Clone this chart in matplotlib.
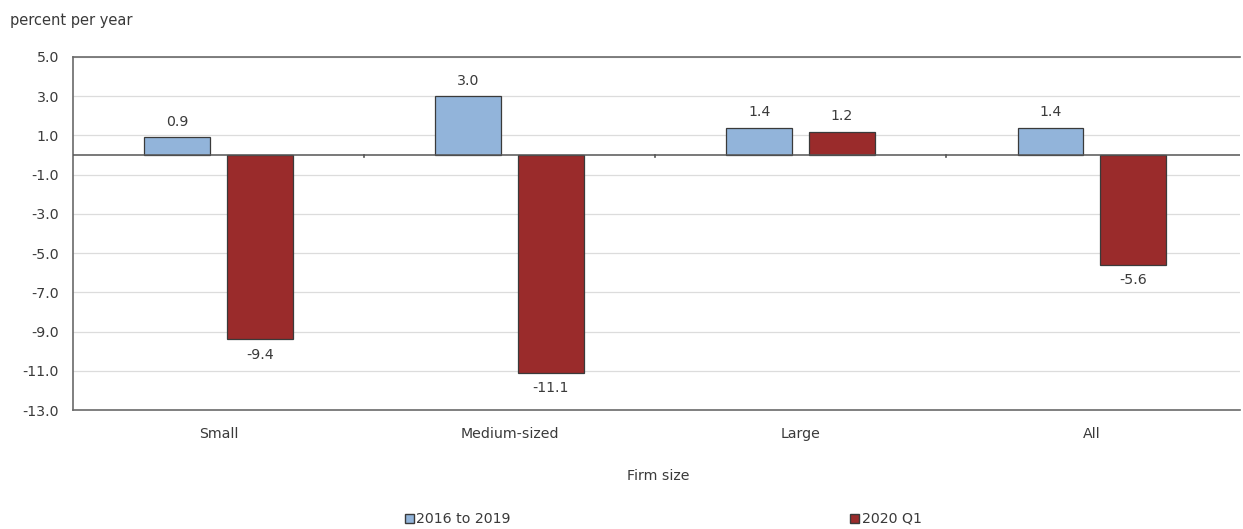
import matplotlib
matplotlib.use("Agg")
import matplotlib.pyplot as plt
from matplotlib.patches import Patch
import numpy as np

categories = ["Small", "Medium-sized", "Large", "All"]
series_names = ["2016 to 2019", "2020 Q1"]
values_2016_2019 = [0.9, 3.0, 1.4, 1.4]
values_2020_q1 = [-9.4, -11.1, 1.2, -5.6]
y_ticks = [5.0, 3.0, 1.0, -1.0, -3.0, -5.0, -7.0, -9.0, -11.0, -13.0]

blue = "#92b4da"
red = "#9a2b2b"
edge = "#3a3a3a"
text_color = "#3a3a3a"
fs = 10.2

fig = plt.figure(figsize=(12.43, 5.29), dpi=100)
ax = fig.add_axes([73 / 1243, 1 - 410 / 529, (1240 - 73) / 1243, (410 - 57) / 529])

x = np.arange(len(categories))
width = 0.225
offset = 0.142

b1 = ax.bar(x - offset, values_2016_2019, width, color=blue, edgecolor=edge, linewidth=0.9, zorder=3)
b2 = ax.bar(x + offset, values_2020_q1, width, color=red, edgecolor=edge, linewidth=0.9, zorder=3)

for bars, vals in ((b1, values_2016_2019), (b2, values_2020_q1)):
    for rect, v in zip(bars, vals):
        cx = rect.get_x() + rect.get_width() / 2
        if v >= 0:
            ax.annotate(f"{v:.1f}", (cx, v), xytext=(0, 6), textcoords="offset points",
                        ha="center", va="bottom", fontsize=fs, color=text_color)
        else:
            ax.annotate(f"{v:.1f}", (cx, v), xytext=(0, -6), textcoords="offset points",
                        ha="center", va="top", fontsize=fs, color=text_color)

ax.set_xlim(-0.5, len(categories) - 0.5 + 0.01)
ax.set_ylim(-13, 5)
ax.set_yticks(y_ticks)
ax.set_yticklabels([f"{t:.1f}" for t in y_ticks])
ax.set_xticks(x)
ax.set_xticklabels(categories)
ax.tick_params(axis="both", length=0, labelsize=fs, colors=text_color, pad=10)
ax.tick_params(axis="x", pad=12)

ax.grid(axis="y", color="#dcdcdc", linewidth=0.9, zorder=0)
ax.axhline(0, color="#555555", linewidth=1.1, zorder=4)
for b in np.arange(0.5, len(categories) - 0.5, 1.0):
    ax.plot([b, b], [0, -0.12], color="#555555", linewidth=1.2, zorder=4)

ax.spines["right"].set_visible(False)
for side in ("left", "top", "bottom"):
    ax.spines[side].set_color("#6a6a6a")
    ax.spines[side].set_linewidth(1.2)

fig.text(10 / 1243, 1 - 20 / 529, "percent per year", fontsize=10.5, color=text_color, va="center", ha="left")
fig.text(658 / 1243, 1 - 476 / 529, "Firm size", fontsize=fs, color=text_color, ha="center", va="center")

handles = [Patch(facecolor=blue, edgecolor=edge), Patch(facecolor=red, edgecolor=edge)]
legend_kw = dict(loc="center", frameon=False, fontsize=fs, handlelength=0.6, handleheight=0.6,
                 handletextpad=0.2, labelcolor=text_color)
fig.legend(handles[:1], series_names[:1], bbox_to_anchor=(458 / 1243, 1 - 519 / 529), **legend_kw)
fig.legend(handles[1:], series_names[1:], bbox_to_anchor=(886 / 1243, 1 - 519 / 529), **legend_kw)

fig.savefig("out.png", dpi=100)
